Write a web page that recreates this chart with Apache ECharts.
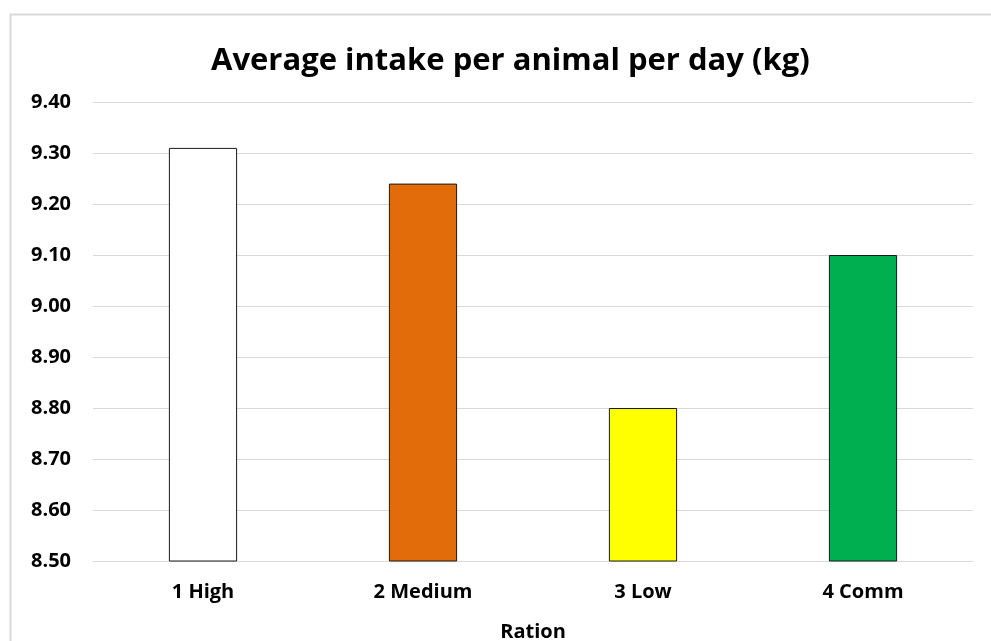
<!DOCTYPE html>
<html>
<head>
<meta charset="utf-8">
<script src="https://cdn.jsdelivr.net/npm/echarts@6/dist/echarts.min.js"></script>
<style>
  html, body { margin: 0; padding: 0; background: #ffffff; }
  #chart { width: 991px; height: 641px; }
</style>
</head>
<body>
<div id="chart"></div>
<script>
// Average daily intake by ration
const categories = ['1 High', '2 Medium', '3 Low', '4 Comm'];
const intakeKg = [9.31, 9.24, 8.80, 9.10];
const barColors = ['#ffffff', '#e36c0a', '#ffff00', '#00b050'];
const titleText = 'Average intake per animal per day (kg)';
const xAxisName = 'Ration';

const FONT = '"Open Sans", "Noto Sans", sans-serif';

const chart = echarts.init(document.getElementById('chart'), null, { renderer: 'canvas' });

chart.setOption({
  backgroundColor: '#ffffff',
  animation: false,
  graphic: [{
    type: 'rect',
    left: 8, top: 12,
    shape: { width: 1000, height: 660 },
    style: { fill: 'none', stroke: '#d9d9d9', lineWidth: 2 },
    silent: true,
    z: -1
  }],
  title: {
    text: titleText,
    left: 206,
    top: 41,
    textStyle: { fontFamily: FONT, fontSize: 31, fontWeight: 'bold', color: '#000000' }
  },
  grid: {
    left: 93, right: 18, top: 102, bottom: 80,
    containLabel: false,
    outerBoundsMode: 'none'
  },
  xAxis: {
    type: 'category',
    data: categories,
    name: xAxisName,
    nameLocation: 'middle',
    nameGap: 61,
    nameTextStyle: { fontFamily: FONT, fontSize: 20, fontWeight: 'bold', color: '#000000' },
    axisLine: { show: true, lineStyle: { color: '#d9d9d9', width: 1 } },
    axisTick: { show: false },
    axisLabel: { fontFamily: FONT, fontSize: 20, fontWeight: 'bold', color: '#000000', margin: 21 }
  },
  yAxis: {
    type: 'value',
    min: 8.5,
    max: 9.4,
    interval: 0.1,
    axisLine: { show: false },
    axisTick: { show: false },
    splitLine: { lineStyle: { color: '#d9d9d9', width: 1 } },
    axisLabel: {
      fontFamily: FONT, fontSize: 20, fontWeight: 'bold', color: '#000000', margin: 22,
      formatter: v => v.toFixed(2)
    }
  },
  series: [{
    type: 'bar',
    barWidth: '31%',
    data: intakeKg.map((v, i) => ({
      value: v,
      itemStyle: { color: barColors[i], borderColor: '#1a1a1a', borderWidth: 1 }
    }))
  }]
});
</script>
</body>
</html>
